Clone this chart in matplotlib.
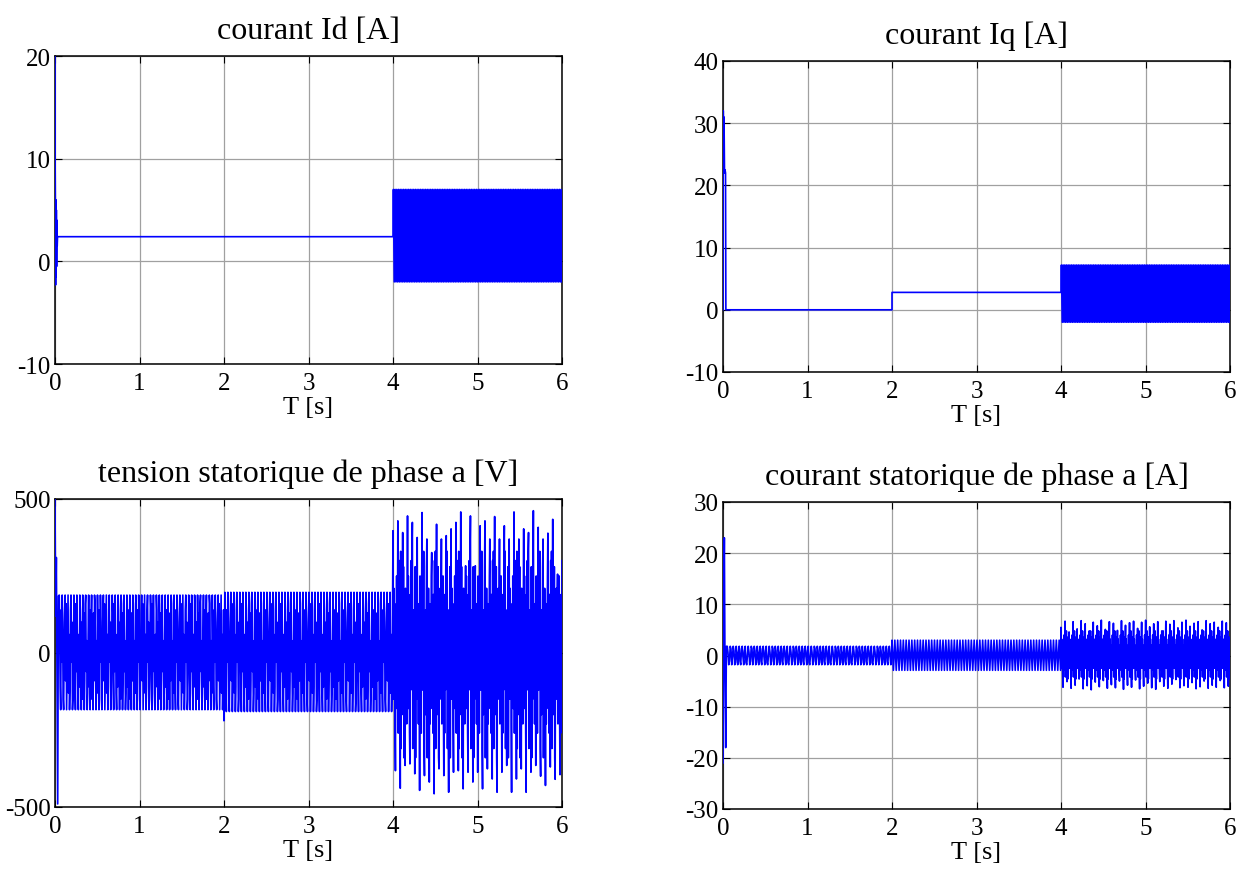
import numpy as np
import matplotlib
matplotlib.use('Agg')
import matplotlib.pyplot as plt

plt.rcParams['font.family'] = ['Liberation Serif', 'DejaVu Serif']
plt.rcParams['axes.unicode_minus'] = False

# ---- values ----
# courant Id: start transient, flat level, oscillation band after 4 s
id_start_t = [0, 0.002, 0.004, 0.007, 0.010, 0.013, 0.016, 0.019, 0.022, 0.026, 0.03]
id_start_v = [20, 9, 6.2, -2.3, 6, -1.5, 5, -0.5, 4, 1.5, 2.4]
id_flat = 2.4
id_band = (7.0, -2.0)

# courant Iq
iq_start_t = [0, 0.003, 0.008, 0.012, 0.018, 0.024, 0.03, 0.034]
iq_start_v = [0, 32, 24, 31, 22, 22.5, 22, 0]
iq_steps = [0.0, 2.8]          # 0..2 s, 2..4 s
iq_band = (7.2, -2.0)

# tension statorique va
va_start_t = [0, 0.008, 0.016, 0.024, 0.032, 0.04]
va_start_v = [500, 120, 310, -60, -490, 185]
va_band1 = (188, -184)
va_dip2 = -220
va_band2 = (197, -190)
va_mid = [60, -110, 140, -30, 100, -150, 20, 130, -90, 160, -60, 40, -130]
va_tops = [397, 429, 391, 445, 424, 375, 456, 370, 326, 418, 370, 381, 403, 424, 458,
           283, 445, 283, 413, 429, 370, 443, 370, 413, 370, 458, 370, 403, 391, 462,
           408, 370, 389, 434, 256]
va_bots = [-382, -439, -365, -360, -392, -446, -398, -419, -457, -376, -398, -452, -387,
           -382, -441, -387, -419, -387, -441, -376, -409, -452, -387, -365, -452, -409,
           -376, -452, -387, -365, -400, -430, -370, -410, -395]
va_inner = [-150, 210, -90, 160, -230, 120, -40, 250, -180, 70, -260, 190, -120, 300,
            -60, 330, -310, 90, -200, 140, -30, 280, -340, 50]

# courant statorique ia
ia_start_t = [0, 0.008, 0.016, 0.024, 0.032, 0.04]
ia_start_v = [-21, 8, 23, -4, -18, 1.8]
ia_band1 = (1.8, -1.8)
ia_band2 = (3.0, -2.9)
ia_mid = [0.6, -1.1, 1.3, -0.3, 0.9, -1.4, 0.2]
ia_tops = [5.5, 6.7, 4.6, 6.6, 5.2, 6.8, 6.2, 4.8, 6.5, 5.8, 6.9, 5.1, 6.6, 6.3, 4.9,
           6.8, 5.9, 6.4, 6.7, 5.3, 6.5, 6.9, 5.6, 6.2, 6.6, 4.8, 6.7, 6.1, 6.8, 5.4,
           6.5, 6.9, 5.7, 6.3, 6.6, 5.0, 6.8, 6.2, 6.5, 5.5, 6.7, 6.4]
ia_bots = [-6.2, -5.1, -6.4, -5.8, -4.6, -6.5, -5.9, -6.7, -5.2, -6.1, -4.9, -6.4, -5.7,
           -6.3, -5.0, -6.6, -5.8, -6.2, -4.8, -6.5, -6.0, -5.4, -6.3, -6.6, -5.1, -6.0,
           -6.4, -5.6, -4.7, -6.3, -5.9, -6.2, -5.3, -6.5, -6.1, -5.0, -6.4, -5.8, -6.2,
           -4.9, -6.3, -6.0]
ia_inner = [-2.5, 3.2, -1.0, 2.0, -3.5, 1.5, -0.5, 4.0, -2.8, 0.8, -4.2, 2.6, -1.5, 4.8,
            -3.0, 1.2, -4.6, 3.6, -0.8, 2.2]


def band(t0, t1, hi, lo, n):
    t = np.linspace(t0, t1, 2 * n)
    return t, np.tile([hi, lo], n)


def rough(t0, t1, tops, bots, inner, k):
    vals = []
    for i, (a, b) in enumerate(zip(tops, bots)):
        vals.append(a)
        vals += [inner[(i * 2 * k + j) % len(inner)] for j in range(k)]
        vals.append(b)
        vals += [inner[(i * 2 * k + k + j) % len(inner)] for j in range(k)]
    return np.linspace(t0, t1, len(vals)), np.array(vals)


def join(*parts):
    t = np.concatenate([np.asarray(p[0], float) for p in parts])
    v = np.concatenate([np.asarray(p[1], float) for p in parts])
    return t, v


id_t, id_v = join((id_start_t, id_start_v), ([4.0], [id_flat]),
                  band(4.005, 6.0, id_band[0], id_band[1], 100))
iq_t, iq_v = join((iq_start_t, iq_start_v), ([2.0, 2.0, 4.0], [iq_steps[0], iq_steps[1], iq_steps[1]]),
                  band(4.005, 6.0, iq_band[0], iq_band[1], 100))
va_t, va_v = join((va_start_t, va_start_v),
                  rough(0.05, 1.995, [va_band1[0]] * 56, [va_band1[1]] * 56, va_mid, 2),
                  ([2.0], [va_dip2]),
                  rough(2.01, 3.995, [va_band2[0]] * 56, [va_band2[1]] * 56, va_mid, 2),
                  rough(4.0, 6.0, va_tops, va_bots, va_inner, 5))
ia_t, ia_v = join((ia_start_t, ia_start_v),
                  rough(0.05, 1.995, [ia_band1[0]] * 55, [ia_band1[1]] * 55, ia_mid, 1),
                  band(2.0, 3.995, ia_band2[0], ia_band2[1], 60),
                  rough(4.0, 6.0, ia_tops, ia_bots, ia_inner, 5))

fig = plt.figure(figsize=(12.48, 8.79), dpi=100)
W, H = 1248, 879
boxes = [(55, 562, 57, 365), (723, 1230, 62, 373), (55, 562, 500, 808), (723, 1230, 503, 810)]
titles = ['courant Id [A]', 'courant Iq [A]', 'tension statorique de phase a [V]',
          'courant statorique de phase a [A]']
series = [(id_t, id_v), (iq_t, iq_v), (va_t, va_v), (ia_t, ia_v)]
ylims = [(-10, 20), (-10, 40), (-500, 500), (-30, 30)]
yticks = [[-10, 0, 10, 20], [-10, 0, 10, 20, 30, 40], [-500, 0, 500],
          [-30, -20, -10, 0, 10, 20, 30]]

for (x0, x1, y0, y1), ttl, (t, v), yl, yt in zip(boxes, titles, series, ylims, yticks):
    ax = fig.add_axes([x0 / W, 1 - y1 / H, (x1 - x0) / W, (y1 - y0) / H])
    ax.plot(t, v, color='#0000ff', lw=1.2, zorder=3)
    ax.set_xlim(0, 6)
    ax.set_ylim(*yl)
    ax.set_xticks(range(7))
    ax.set_yticks(yt)
    ax.grid(True, color='#a0a0a0', lw=0.9)
    ax.tick_params(direction='in', top=True, right=True, length=5, labelsize=18)
    ax.tick_params(axis='x', pad=6)
    ax.tick_params(axis='y', pad=3)
    for s in ax.spines.values():
        s.set_linewidth(1.1)
    ax.set_title(ttl, fontsize=23, pad=13)
    ax.set_xlabel('T [s]', fontsize=19, labelpad=1)

fig.savefig('out.png', dpi=100)
